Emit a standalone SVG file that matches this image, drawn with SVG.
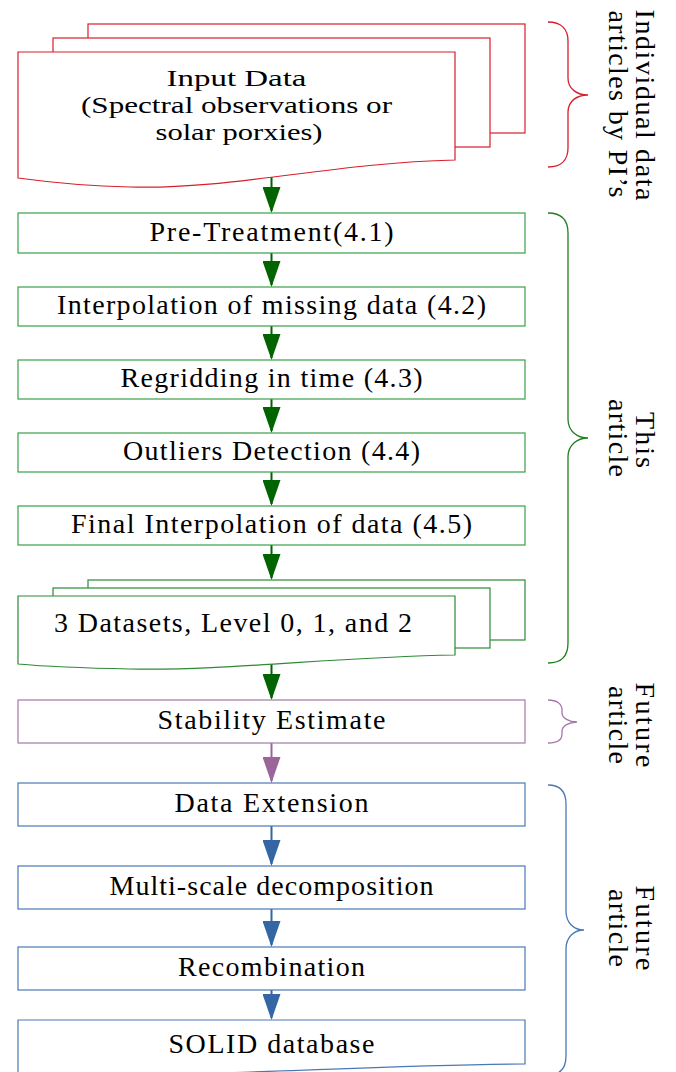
<svg xmlns="http://www.w3.org/2000/svg" width="676" height="1072" viewBox="0 0 676 1072">
<defs>
<style>
text{font-family:"Liberation Serif","DejaVu Serif",serif;font-size:28px;fill:#000;}
.c{text-anchor:middle;}
.ml{font-size:24px;}
.red{fill:#fff;stroke:#d81e2a;stroke-width:1.2;}
.grn{fill:#fff;stroke:#3aa048;stroke-width:1.2;}
.grd{fill:#fff;stroke:#2c8a34;stroke-width:1.2;}
.pur{fill:#fff;stroke:#a578aa;stroke-width:1.2;}
.blu{fill:#fff;stroke:#4a78b4;stroke-width:1.2;}
.brace{fill:none;stroke-width:1.3;}
.ag{stroke:#006400;stroke-width:2;fill:none;}
.ap{stroke:#9a6699;stroke-width:2;fill:none;}
.ab{stroke:#3465a4;stroke-width:2;fill:none;}
</style>
<marker id="hg" viewBox="0 0 26 18" refX="24" refY="9" markerWidth="26" markerHeight="18" markerUnits="userSpaceOnUse" orient="auto"><path d="M0,0 L26,9 L0,18 Z" fill="#006400"/></marker>
<marker id="hp" viewBox="0 0 26 18" refX="24" refY="9" markerWidth="26" markerHeight="18" markerUnits="userSpaceOnUse" orient="auto"><path d="M0,0 L26,9 L0,18 Z" fill="#9a6699"/></marker>
<marker id="hb" viewBox="0 0 26 18" refX="24" refY="9" markerWidth="26" markerHeight="18" markerUnits="userSpaceOnUse" orient="auto"><path d="M0,0 L26,9 L0,18 Z" fill="#3465a4"/></marker>
</defs>
<rect width="676" height="1072" fill="#fff"/>

<g id="connectors">
<line class="ag" x1="271.5" y1="170" x2="271.5" y2="211" marker-end="url(#hg)"/>
<line class="ag" x1="271.5" y1="253" x2="271.5" y2="285" marker-end="url(#hg)"/>
<line class="ag" x1="271.5" y1="326" x2="271.5" y2="358" marker-end="url(#hg)"/>
<line class="ag" x1="271.5" y1="399" x2="271.5" y2="431" marker-end="url(#hg)"/>
<line class="ag" x1="271.5" y1="472" x2="271.5" y2="504" marker-end="url(#hg)"/>
<line class="ag" x1="271.5" y1="545" x2="271.5" y2="578" marker-end="url(#hg)"/>
<line class="ag" x1="271.5" y1="660" x2="271.5" y2="698" marker-end="url(#hg)"/>
<line class="ap" x1="271.5" y1="743" x2="271.5" y2="781" marker-end="url(#hp)"/>
<line class="ab" x1="271.5" y1="826" x2="271.5" y2="864" marker-end="url(#hb)"/>
<line class="ab" x1="271.5" y1="909" x2="271.5" y2="945" marker-end="url(#hb)"/>
<line class="ab" x1="271.5" y1="990" x2="271.5" y2="1018" marker-end="url(#hb)"/>
</g>

<g id="input-data">
<rect class="red" x="88" y="24" width="437" height="109"/>
<rect class="red" x="53" y="38" width="437" height="109"/>
<path class="red" d="M18,52 H455 V160 C330,163 230,190 130,187 C80,186 40,181 18,178 Z"/>
<text class="c ml" x="236.5" y="86" textLength="140" lengthAdjust="spacingAndGlyphs">Input Data</text>
<text class="c ml" x="236.5" y="113" textLength="311" lengthAdjust="spacingAndGlyphs">(Spectral observations or</text>
<text class="c ml" x="239" y="140" textLength="167" lengthAdjust="spacingAndGlyphs">solar porxies)</text>
</g>

<g id="pre-treatment">
<rect class="grn" x="18" y="213" width="507" height="40"/>
<text class="c" x="271.5" y="240.5" textLength="244" lengthAdjust="spacing">Pre-Treatment(4.1)</text>
</g>
<g id="interpolation">
<rect class="grn" x="18" y="287" width="507" height="39"/>
<text class="c" x="271.5" y="314" textLength="429" lengthAdjust="spacing">Interpolation of missing data (4.2)</text>
</g>
<g id="regridding">
<rect class="grn" x="18" y="360" width="507" height="39"/>
<text class="c" x="271.5" y="387" textLength="302" lengthAdjust="spacing">Regridding in time (4.3)</text>
</g>
<g id="outliers">
<rect class="grn" x="18" y="433" width="507" height="39"/>
<text class="c" x="271.5" y="460" textLength="297" lengthAdjust="spacing">Outliers Detection (4.4)</text>
</g>
<g id="final-interpolation">
<rect class="grn" x="18" y="506" width="507" height="39"/>
<text class="c" x="271.5" y="533" textLength="401" lengthAdjust="spacing">Final Interpolation of data (4.5)</text>
</g>

<g id="datasets">
<rect class="grd" x="88" y="580" width="437" height="60"/>
<rect class="grd" x="53" y="588" width="437" height="60"/>
<path class="grd" d="M18,596 H455 V655 C330,657 230,671 130,669 C80,668 40,666 18,664 Z"/>
<text class="c" x="233" y="632" textLength="358" lengthAdjust="spacing">3 Datasets, Level 0, 1, and 2</text>
</g>

<g id="stability">
<rect class="pur" x="18" y="700" width="507" height="43"/>
<text class="c" x="271.5" y="728.5" textLength="228" lengthAdjust="spacing">Stability Estimate</text>
</g>

<g id="data-extension">
<rect class="blu" x="18" y="783" width="507" height="43"/>
<text class="c" x="271.5" y="812" textLength="194" lengthAdjust="spacing">Data Extension</text>
</g>
<g id="multi-scale">
<rect class="blu" x="18" y="866" width="507" height="43"/>
<text class="c" x="271.5" y="895" textLength="324" lengthAdjust="spacing">Multi-scale decomposition</text>
</g>
<g id="recombination">
<rect class="blu" x="18" y="947" width="507" height="43"/>
<text class="c" x="271.5" y="975.5" textLength="187" lengthAdjust="spacing">Recombination</text>
</g>
<g id="solid-database">
<path class="blu" d="M18,1020 H525 V1064 C420,1065 320,1070 220,1073 C140,1076 70,1079 18,1082 Z"/>
<text class="c" x="271.5" y="1053" textLength="206" lengthAdjust="spacing">SOLID database</text>
</g>

<g id="brace-individual">
<path class="brace" stroke="#d81e2a" d="M548,22 C561,22 568,29 568,41 V78 C568,89 577,95 588,95 C577,95 568,101 568,112 V148 C568,160 561,167 548,167"/>
<text class="c" transform="translate(636,105) rotate(90)" textLength="191" lengthAdjust="spacing">Individual data</text>
<text class="c" transform="translate(609,104) rotate(90)" textLength="187" lengthAdjust="spacing">articles by PI’s</text>
</g>
<g id="brace-this">
<path class="brace" stroke="#1f7f1f" d="M548,213 C561,213 568,220 568,233 V419 C568,431 577,438 588,438 C577,438 568,445 568,457 V643 C568,656 561,663 548,663"/>
<text class="c" transform="translate(636,440) rotate(90)" textLength="56" lengthAdjust="spacing">This</text>
<text class="c" transform="translate(609,438) rotate(90)" textLength="78" lengthAdjust="spacing">article</text>
</g>
<g id="brace-future1">
<path class="brace" stroke="#a578aa" d="M548,700 C557,700 562,704 562,710 V713 C562,718 569,722 577,722 C569,722 562,726 562,731 V734 C562,740 557,743 548,743"/>
<text class="c" transform="translate(636,725) rotate(90)" textLength="85" lengthAdjust="spacing">Future</text>
<text class="c" transform="translate(609,725) rotate(90)" textLength="78" lengthAdjust="spacing">article</text>
</g>
<g id="brace-future2">
<path class="brace" stroke="#4a78b4" d="M548,785 C560,785 566,792 566,804 V911 C566,923 574,930 584,930 C574,930 566,937 566,949 V1056 C566,1068 560,1075 548,1075"/>
<text class="c" transform="translate(636,928) rotate(90)" textLength="85" lengthAdjust="spacing">Future</text>
<text class="c" transform="translate(609,928) rotate(90)" textLength="78" lengthAdjust="spacing">article</text>
</g>
</svg>
